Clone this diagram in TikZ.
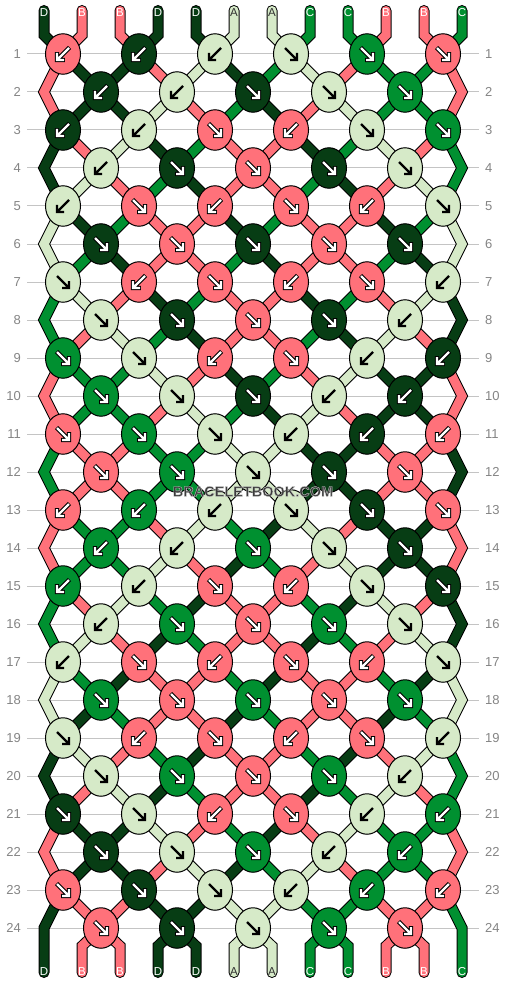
\documentclass[tikz,border=0pt]{standalone}
\usepackage{fontspec}
\setmainfont{Liberation Sans}
\usetikzlibrary{shapes.geometric}
\definecolor{cD}{HTML}{073D14}
\definecolor{cB}{HTML}{FF717A}
\definecolor{cA}{HTML}{D6EAC8}
\definecolor{cC}{HTML}{009030}
\definecolor{gridgray}{HTML}{C4C4C4}
\definecolor{numgray}{HTML}{858585}
\definecolor{labdark}{HTML}{303030}
\definecolor{wmgray}{HTML}{3C3C3C}
\def\cAname{cA}
\newcommand\haloText[1]{\special{pdf:literal direct 2 Tr 0.35 w 0.8 0.8 0.8 RG}#1\special{pdf:literal direct 0 Tr}}
\tikzset{
  knot/.style={ellipse, draw=black, line width=1pt, minimum width=35pt, minimum height=40.5pt, inner sep=0pt},
  strout/.style={line width=11pt, draw=black, line cap=round, line join=miter},
  strin/.style={line width=9pt, line cap=round, line join=miter},
  gridline/.style={draw=gridgray, line width=1pt},
  rownum/.style={text=numgray, font=\fontsize{13}{13}\selectfont, inner sep=0pt},
  strlabel/.style={font=\fontsize{11.5}{11.5}\selectfont, inner sep=0pt},
  arrowline/.style={line width=2.4pt, line cap=butt, line join=miter},
  arrowout/.style={line width=4.4pt, line cap=butt, line join=miter, draw=black},
  wmark/.style={font=\bfseries\fontsize{14.5}{14.5}\selectfont, inner sep=0pt}
}
% point of position #2 at row #1
\newcommand\bbPt[2]{%
  \pgfmathsetmacro\bbX{6+38*#2}%
  \ifnum#1=0 \def\bbY{35}%
  \else\ifnum#1=25 \def\bbY{946}%
  \else
    \pgfmathsetmacro\bbY{16+38*#1}%
    \pgfmathtruncatemacro\bbQ{#2-mod(#2+#1,2)}%
    \ifnum\bbQ>0 \ifnum\bbQ<12 \pgfmathsetmacro\bbX{25+38*\bbQ}\fi\fi
  \fi\fi}
% is position #2 at row #1 an edge bend
\newcommand\bbIsBend[2]{%
  \def\bbBend{0}%
  \ifodd#1\relax\else
    \ifnum#1>0 \ifnum#1<25
      \ifnum#2=1 \def\bbBend{1}\fi
      \ifnum#2=12 \def\bbBend{1}\fi
    \fi\fi
  \fi}
% colour of string at position #2 after #1 rows
\newcommand\bbFind[2]{%
  \pgfmathtruncatemacro\bbA{#2-1}%
  \pgfmathtruncatemacro\bbPar{mod(\bbA+#1,2)}%
  \ifnum\bbPar=0 \let\bbU\bbA \else \pgfmathtruncatemacro\bbU{24-#2}\fi
  \pgfmathtruncatemacro\bbUo{mod(\bbU-#1+48,24)}%
  \ifnum\bbUo<11 \pgfmathtruncatemacro\bbP{\bbUo+1}\else\pgfmathtruncatemacro\bbP{24-\bbUo}\fi
  \ifcase\bbP\relax\or\def\bbCol{cD}\or\def\bbCol{cB}\or\def\bbCol{cB}\or\def\bbCol{cD}\or\def\bbCol{cD}\or\def\bbCol{cA}\or\def\bbCol{cA}\or\def\bbCol{cC}\or\def\bbCol{cC}\or\def\bbCol{cB}\or\def\bbCol{cB}\or\def\bbCol{cC}\fi}
\begin{document}
\begin{tikzpicture}[x=1pt,y=-1pt]
\fill[white] (0,0) rectangle (506,984);
\useasboundingbox (0,0) rectangle (506,984);
% grid lines and row numbers
\foreach \r in {1,...,24}{
  \pgfmathsetmacro\yy{16+38*\r}
  \coordinate (gl-\r) at (27,\yy);
  \coordinate (gr-\r) at (479,\yy);
  \draw[gridline] (gl-\r) -- (gr-\r);
  \node[rownum, anchor=east] (nl-\r) at (21,\yy) {\r};
  \node[rownum, anchor=west] (nr-\r) at (485,\yy) {\r};
}
% path points
\foreach \r in {0,...,25}{\foreach \q in {1,...,12}{
  \bbPt{\r}{\q}
  \coordinate (P-\r-\q) at (\bbX,\bbY);
}}
\foreach \q in {1,...,12}{
  \pgfmathsetmacro\xx{6+38*\q}
  \coordinate (T-\q) at (\xx,10.5);
  \coordinate (B-\q) at (\xx,972.5);
}
% strings
\foreach \pass in {0,1}{
\foreach \r in {1,...,25}{\foreach \q in {1,...,12}{
  \pgfmathtruncatemacro\rp{\r-1}
  \bbIsBend{\rp}{\q}\let\prevbend\bbBend
  \ifnum\prevbend=0
    \bbIsBend{\r}{\q}
    \bbFind{\rp}{\q}
    \pgfmathtruncatemacro\rn{\r+1}
    \ifnum\bbBend=1
      \edef\pth{(P-\rp-\q) -- (P-\r-\q) -- (P-\rn-\q)}%
      \ifnum\rn=25 \edef\pth{\pth -- (B-\q)}\fi
    \else
      \edef\pth{(P-\rp-\q) -- (P-\r-\q)}%
      \ifnum\r=25 \edef\pth{\pth -- (B-\q)}\fi
    \fi
    \ifnum\r=1 \edef\pth{(T-\q) -- \pth}\fi
    \ifnum\pass=0 \edef\tmp{\noexpand\draw[strout] \pth;}\else \edef\tmp{\noexpand\draw[strin,draw=\bbCol] \pth;}\fi
    \tmp
  \fi
}}}
% knots
\foreach \r/\dirs in {
  1/{b,b,b,f,f,f}, 2/{b,b,f,f,f}, 3/{b,b,f,b,f,f}, 4/{b,f,f,f,f},
  5/{b,f,b,f,b,f}, 6/{f,f,f,f,f}, 7/{f,b,f,b,f,b}, 8/{f,f,f,f,b},
  9/{f,f,b,f,b,b}, 10/{f,f,f,b,b}, 11/{f,f,f,b,b,b}, 12/{f,f,f,f,f},
  13/{b,b,b,f,f,f}, 14/{b,b,f,f,f}, 15/{b,b,f,b,f,f}, 16/{b,f,f,f,f},
  17/{b,f,b,f,b,f}, 18/{f,f,f,f,f}, 19/{f,b,f,b,f,b}, 20/{f,f,f,f,b},
  21/{f,f,b,f,b,b}, 22/{f,f,f,b,b}, 23/{f,f,f,b,b,b}, 24/{f,f,f,f,f}}{
  \pgfmathtruncatemacro\rp{\r-1}
  \pgfmathsetmacro\yy{16+38*\r}
  \foreach \d [count=\k] in \dirs {
    \ifodd\r\relax \pgfmathtruncatemacro\q{2*\k-1}\else \pgfmathtruncatemacro\q{2*\k}\fi
    \pgfmathsetmacro\xx{25+38*\q}
    \if\d f\relax
      \bbFind{\rp}{\q}\def\bbSx{1}%
    \else
      \pgfmathtruncatemacro\qn{\q+1}\bbFind{\rp}{\qn}\def\bbSx{-1}%
    \fi
    \node[knot, fill=\bbCol] (k-\r-\k) at (\xx,\yy) {};
    \begin{scope}[shift={(k-\r-\k.center)}, xscale=\bbSx]
      \ifx\bbCol\cAname
        \draw[arrowline, draw=black] (-6,-6) -- (5,5) (-1,6) -- (6,6) -- (6,-1);
      \else
        \draw[arrowout] (-6.5,-6.5) -- (5,5) (-1.8,6) -- (6,6) -- (6,-1.8);
        \draw[arrowline, draw=white] (-6,-6) -- (5,5) (-1,6) -- (6,6) -- (6,-1);
      \fi
    \end{scope}
  }
}
% string labels
\foreach \c [count=\q] in {D,B,B,D,D,A,A,C,C,B,B,C}{
  \pgfmathsetmacro\xx{6+38*\q}
  \if\c A\relax \def\tc{labdark}\else \def\tc{white}\fi
  \node[strlabel, text=\tc] (lt-\q) at (\xx,12.5) {\c};
  \node[strlabel, text=\tc] (lb-\q) at (\xx,971.5) {\c};
}
% watermark
\node[wmark, text=wmgray] (wm) at (253,491.5) {\haloText{BRACELETBOOK.COM}};
\end{tikzpicture}
\end{document}
